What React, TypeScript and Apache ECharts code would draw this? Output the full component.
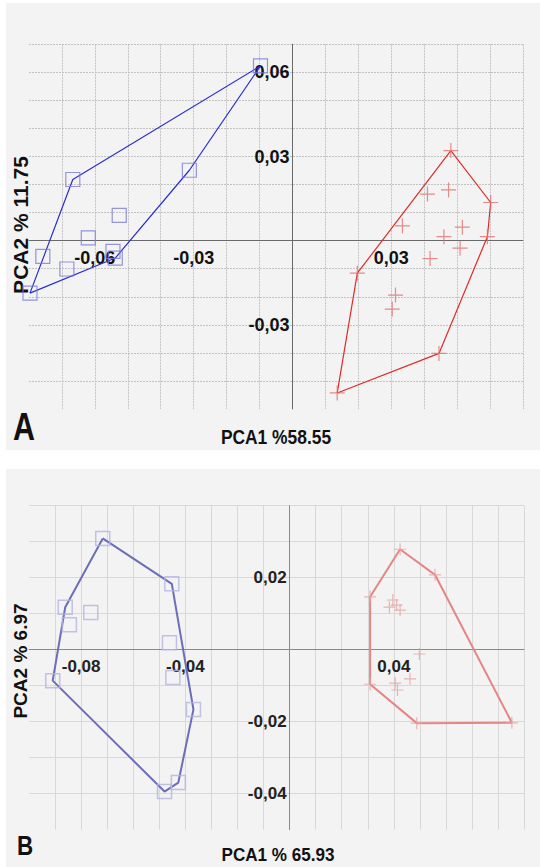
import React, { useEffect, useRef } from "react";
import * as echarts from "echarts";

// ---------- Panel A data ----------
const blueA: [number, number][] = [
  [-0.0097, 0.0623], [-0.0667, 0.0218], [-0.0313, 0.0251], [-0.0526, 0.009],
  [-0.062, 0.001], [-0.0758, -0.0056], [-0.0685, -0.0101], [-0.0545, -0.0038],
  [-0.0538, -0.0062], [-0.0797, -0.0187],
];
const blueHullA = [9, 1, 0, 2, 8, 9];
const redA: [number, number][] = [
  [0.0481, 0.0321], [0.0602, 0.0136], [0.0592, 0.0014], [0.0445, -0.0402],
  [0.0136, -0.0543], [0.0197, -0.0116], [0.0334, 0.0053], [0.041, 0.0166],
  [0.0474, 0.0181], [0.0516, 0.0048], [0.046, 0.0014], [0.0509, -0.0027],
  [0.0418, -0.0064], [0.0313, -0.0194], [0.0303, -0.0244],
];
const redHullA = [0, 1, 2, 3, 4, 5, 0];
const xLabelsA = [-0.06, -0.03, 0.03];
const yLabelsA = [0.06, 0.03, -0.03];

// ---------- Panel B data ----------
const blueB: [number, number][] = [
  [-0.0717, 0.0309], [-0.0452, 0.0183], [-0.0861, 0.0118], [-0.0763, 0.0103],
  [-0.0845, 0.0069], [-0.0461, 0.0019], [-0.0448, -0.0077], [-0.0369, -0.0166],
  [-0.0909, -0.0086], [-0.0427, -0.0369], [-0.048, -0.0394],
];
const blueHullB = [0, 1, 7, 9, 10, 8, 2, 0];
const redB: [number, number][] = [
  [0.0424, 0.0279], [0.0558, 0.0208], [0.0309, 0.0147], [0.0396, 0.0138],
  [0.0411, 0.0124], [0.0383, 0.0118], [0.0424, 0.011], [0.0498, -0.0012],
  [0.0462, -0.0081], [0.0405, -0.0093], [0.0414, -0.0112], [0.0309, -0.0096],
  [0.0488, -0.0204], [0.0853, -0.0203],
];
const redHullB = [0, 1, 13, 12, 11, 2, 0];
const xLabelsB = [-0.08, -0.04, 0.04];
const yLabelsB = [0.02, -0.02, -0.04];

const titleA = { x: "PCA1 %58.55", y: "PCA2 % 11.75", tag: "A" };
const titleB = { x: "PCA1 % 65.93", y: "PCA2 % 6.97", tag: "B" };

const SANS = "'Liberation Sans', Arial, sans-serif";

const fmt = (v: number) => v.toFixed(2).replace(".", ",");
const pick = (list: number[]) => (v: number) =>
  list.some((t) => Math.abs(t - v) < 1e-6) ? fmt(v) : "";

const CROSS = "path://M0,50 L100,50 M50,0 L50,100";

function hull(points: [number, number][], idx: number[]) {
  return idx.map((i) => points[i]);
}

const hidden = {
  axisLine: { show: false },
  axisTick: { show: false },
  axisLabel: { show: false },
};

export default function App() {
  const ref = useRef<HTMLDivElement>(null);

  useEffect(() => {
    const chart = echarts.init(ref.current!, null, { renderer: "svg" });
    const gridLineA = { show: true, lineStyle: { color: "#c2c2c2", width: 1, type: [2, 1] as any } };
    const gridLineB = { show: true, lineStyle: { color: "#d8d8d8", width: 1, type: "solid" as const } };

    // px geometry
    const ax = 32.93, ay = 28.05; // px per 0.01 (A)
    const bx = 26.06, by = 36.0; // px per 0.01 (B)
    const A0 = { left: 29, top: 44.3 };
    const B0 = { left: 29, top: 505.7 };

    const grids = [
      { left: A0.left, top: A0.top, width: 15 * ax, height: 13 * ay },
      { left: A0.left, top: A0.top, width: 15 * ax, height: 12 * ay },
      { left: A0.left + ax, top: A0.top, width: 14 * ax, height: 13 * ay },
      { left: B0.left, top: B0.top, width: 19 * bx, height: 9 * by },
      { left: B0.left, top: B0.top, width: 19 * bx, height: 8 * by },
      { left: B0.left + bx, top: B0.top, width: 18 * bx, height: 9 * by },
    ].map((g) => ({ ...g, containLabel: false, outerBoundsMode: "none" }));

    // offsets that bring the axes (line + labels) onto the zero lines
    const offXA = -6 * ay;
    const offYA = -8 * ax;
    const offXB = -5 * by;
    const offYB = -10 * bx;

    const axisA = { color: "#6a6a6a", width: 1 };
    const axisB = { color: "#8a8a8a", width: 1 };
    const labA = { color: "#111", fontSize: 18, fontWeight: "bold", fontFamily: SANS };
    const labB = { color: "#222", fontSize: 17, fontWeight: "bold", fontFamily: SANS };

    const xAxis: any[] = [
      {
        type: "value", gridIndex: 0, min: -0.08, max: 0.07, interval: 0.01, offset: offXA,
        splitLine: { show: false }, axisTick: { show: false },
        axisLine: { show: true, onZero: false, lineStyle: axisA },
        axisLabel: { formatter: pick(xLabelsA), margin: 8, ...labA },
      },
      { type: "value", gridIndex: 1, min: -0.08, max: 0.07, interval: 0.01, splitLine: { show: false }, ...hidden },
      { type: "value", gridIndex: 2, min: -0.07, max: 0.07, interval: 0.01, splitLine: gridLineA, ...hidden },
      {
        type: "value", gridIndex: 3, min: -0.1, max: 0.09, interval: 0.01, offset: offXB,
        splitLine: { show: false }, axisTick: { show: false },
        axisLine: { show: true, onZero: false, lineStyle: axisB },
        axisLabel: { formatter: pick(xLabelsB), margin: 8, ...labB },
      },
      { type: "value", gridIndex: 4, min: -0.1, max: 0.09, interval: 0.01, splitLine: { show: false }, ...hidden },
      { type: "value", gridIndex: 5, min: -0.09, max: 0.09, interval: 0.01, splitLine: gridLineB, ...hidden },
    ];
    const yAxis: any[] = [
      {
        type: "value", gridIndex: 0, min: -0.06, max: 0.07, interval: 0.01, offset: offYA,
        splitLine: { show: false }, axisTick: { show: false },
        axisLine: { show: true, onZero: false, lineStyle: axisA },
        axisLabel: { formatter: pick(yLabelsA), margin: 3, ...labA },
      },
      { type: "value", gridIndex: 1, min: -0.05, max: 0.07, interval: 0.01, splitLine: gridLineA, ...hidden },
      { type: "value", gridIndex: 2, min: -0.06, max: 0.07, interval: 0.01, splitLine: { show: false }, ...hidden },
      {
        type: "value", gridIndex: 3, min: -0.05, max: 0.04, interval: 0.01, offset: offYB,
        splitLine: { show: false }, axisTick: { show: false },
        axisLine: { show: true, onZero: false, lineStyle: axisB },
        axisLabel: { formatter: pick(yLabelsB), margin: 3, ...labB },
      },
      { type: "value", gridIndex: 4, min: -0.04, max: 0.04, interval: 0.01, splitLine: gridLineB, ...hidden },
      { type: "value", gridIndex: 5, min: -0.05, max: 0.04, interval: 0.01, splitLine: { show: false }, ...hidden },
    ];

    const series: any[] = [
      {
        type: "line", xAxisIndex: 0, yAxisIndex: 0, data: hull(blueA, blueHullA), symbol: "none",
        lineStyle: { color: "#2b2bd6", width: 1.2 }, z: 3,
      },
      {
        type: "line", xAxisIndex: 0, yAxisIndex: 0, data: hull(redA, redHullA), symbol: "none",
        lineStyle: { color: "#e02a2a", width: 1.2 }, z: 3,
      },
      {
        type: "scatter", xAxisIndex: 0, yAxisIndex: 0, data: blueA, symbol: "rect", symbolSize: 14,
        itemStyle: { color: "none", borderColor: "#7c7cd8", borderWidth: 1.2 }, z: 4,
      },
      {
        type: "scatter", xAxisIndex: 0, yAxisIndex: 0, data: redA, symbol: CROSS, symbolSize: 15,
        itemStyle: { color: "none", borderColor: "#e07070", borderWidth: 1.2 }, z: 4,
      },
      {
        type: "line", xAxisIndex: 3, yAxisIndex: 3, data: hull(blueB, blueHullB), symbol: "none",
        lineStyle: { color: "#6d6db8", width: 2 }, z: 3,
      },
      {
        type: "line", xAxisIndex: 3, yAxisIndex: 3, data: hull(redB, redHullB), symbol: "none",
        lineStyle: { color: "#e58585", width: 2 }, z: 3,
      },
      {
        type: "scatter", xAxisIndex: 3, yAxisIndex: 3, data: blueB, symbol: "rect", symbolSize: 14,
        itemStyle: { color: "none", borderColor: "#b4b4e0", borderWidth: 1.5 }, z: 4,
      },
      {
        type: "scatter", xAxisIndex: 3, yAxisIndex: 3, data: redB, symbol: CROSS, symbolSize: 12,
        itemStyle: { color: "none", borderColor: "#e6a3a3", borderWidth: 1.2 }, z: 4,
      },
    ];

    const txt = (text: string, x: number, y: number, size: number, opts: any = {}) => ({
      type: "text", x, y, rotation: opts.rotation || 0, scaleX: opts.scaleX ?? 1,
      style: {
        text, fill: "#111", font: `bold ${size}px ${SANS}`,
        textAlign: "center", textVerticalAlign: "middle", align: "center", verticalAlign: "middle",
      },
    });

    chart.setOption({
      animation: false,
      grid: grids,
      xAxis, yAxis, series,
      graphic: [
        txt(titleA.x, 276, 437, 20, { scaleX: 0.87 }),
        txt(titleA.y, 20, 225, 21, { rotation: Math.PI / 2 }),
        txt(titleA.tag, 24, 427, 38, { scaleX: 0.8 }),
        txt(titleB.x, 278, 855, 18, { scaleX: 0.95 }),
        txt(titleB.y, 20, 661, 19, { rotation: Math.PI / 2 }),
        txt(titleB.tag, 25, 845, 28, { scaleX: 0.8 }),
      ],
    });
    return () => chart.dispose();
  }, []);

  return (
    <div style={{ position: "fixed", left: 0, top: 0, width: 540, height: 867, background: "#fff" }}>
      <div style={{ position: "absolute", left: 6, top: 3, width: 534, height: 447, background: "#f3f3f3" }} />
      <div style={{ position: "absolute", left: 6, top: 469, width: 534, height: 398, background: "#f3f3f3" }} />
      <div ref={ref} style={{ position: "absolute", left: 0, top: 0, width: 540, height: 867 }} />
    </div>
  );
}
